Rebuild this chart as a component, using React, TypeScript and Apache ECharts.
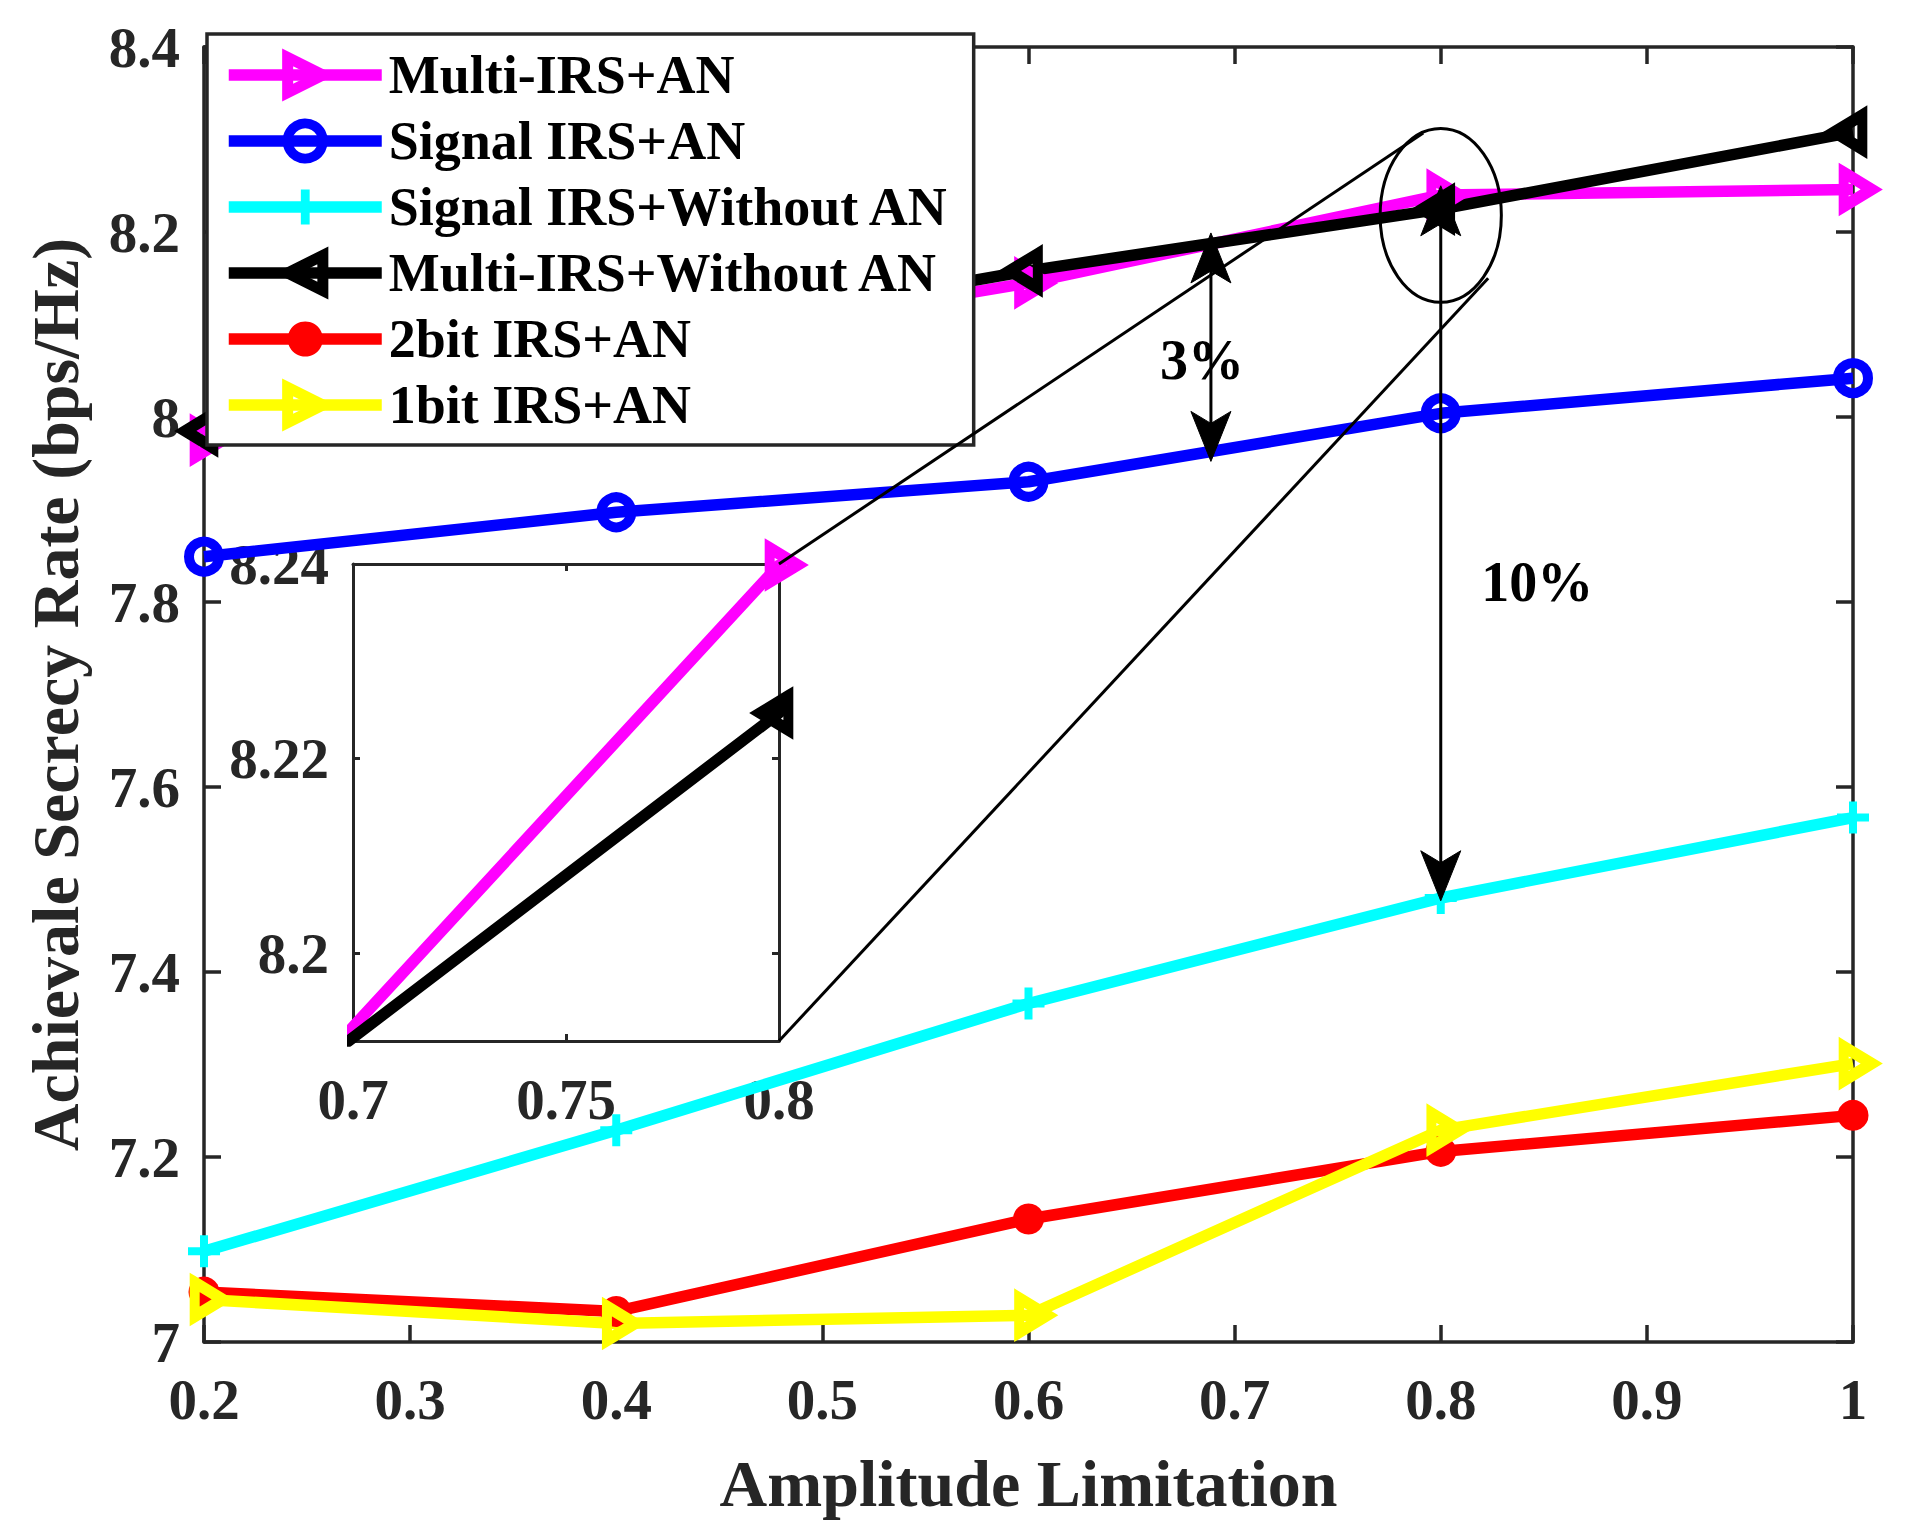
import React, { useEffect, useRef } from "react";
import * as echarts from "echarts";

// ---------------- data ----------------
const amplitude = [0.2, 0.4, 0.6, 0.8, 1.0];
const multiIrsAn = [7.975, 8.07, 8.145, 8.2399, 8.246];
const signalIrsAn = [7.849, 7.897, 7.93, 8.004, 8.042];
const signalIrsNoAn = [7.098, 7.229, 7.366, 7.48, 7.567];
const multiIrsNoAn = [7.985, 8.08, 8.158, 8.2247, 8.308];
const bit2IrsAn = [7.054, 7.033, 7.133, 7.206, 7.245];
const bit1IrsAn = [7.046, 7.02, 7.029, 7.229, 7.301];

const seriesNames = [
  "Multi-IRS+AN",
  "Signal IRS+AN",
  "Signal IRS+Without AN",
  "Multi-IRS+Without AN",
  "2bit IRS+AN",
  "1bit IRS+AN",
];

// axes
const xRange = [0.2, 1.0];
const xStep = 0.1;
const yRange = [7, 8.4];
const yStep = 0.2;
const insetXRange = [0.7, 0.8];
const insetXStep = 0.05;
const insetYRange = [8.191, 8.24];
const insetYTicks = [8.2, 8.22, 8.24];

// annotations (data coordinates of the main axes)
const arrow3 = [0.6885, 8.199, 7.952]; // x, top, bottom
const arrow10 = [0.8, 8.25, 7.477];
const label3 = [0.6842, 8.0616];
const label10 = [0.8468, 7.8216];
const ellipseCenter = [0.8, 8.218];
const ellipseHalf = [0.0294, 0.094];
const connectorEnds = [
  [0.7915, 8.307],
  [0.823, 8.15],
];

const FONT = '"Liberation Serif", "Times New Roman", serif';
const AX = "#262626";

const triRight = "path://M0,0 L10,5 L0,10 Z";
const triLeft = "path://M10,0 L0,5 L10,10 Z";
const plus =
  "path://M3.75,0 H6.25 V3.75 H10 V6.25 H6.25 V10 H3.75 V6.25 H0 V3.75 H3.75 Z";

type Spec = {
  name: string;
  values: number[];
  color: string;
  symbol: string;
  size: number | number[];
  hollow: boolean;
  border: number;
  offset?: (string | number)[];
};

const TRI = [28, 34];
const specs: Spec[] = [
  { name: seriesNames[0], values: multiIrsAn, color: "#ff00ff", symbol: triRight, size: TRI, hollow: true, border: 11, offset: ["16.7%", 0] },
  { name: seriesNames[1], values: signalIrsAn, color: "#0000ff", symbol: "circle", size: 30, hollow: true, border: 10 },
  { name: seriesNames[2], values: signalIrsNoAn, color: "#00ffff", symbol: plus, size: 32, hollow: false, border: 0 },
  { name: seriesNames[3], values: multiIrsNoAn, color: "#000000", symbol: triLeft, size: TRI, hollow: true, border: 11, offset: ["-16.7%", 0] },
  { name: seriesNames[4], values: bit2IrsAn, color: "#ff0000", symbol: "circle", size: 31, hollow: false, border: 0 },
  { name: seriesNames[5], values: bit1IrsAn, color: "#ffff00", symbol: triRight, size: TRI, hollow: true, border: 11, offset: ["16.7%", 0] },
];

function makeSeries(s: Spec, axisIndex: number) {
  return {
    type: "line",
    name: s.name,
    xAxisIndex: axisIndex,
    yAxisIndex: axisIndex,
    data: amplitude.map((x, i) => [x, s.values[i]]),
    symbol: s.symbol,
    symbolSize: s.size,
    symbolKeepAspect: false,
    symbolOffset: s.offset || [0, 0],
    showSymbol: true,
    clip: true,
    lineStyle: { color: s.color, width: 11.5 },
    itemStyle: s.hollow
      ? { color: "transparent", borderColor: s.color, borderWidth: s.border }
      : { color: s.color, borderWidth: 0 },
    emphasis: { disabled: true },
    z: 2,
  };
}

const tickLabel = {
  fontFamily: FONT,
  fontSize: 57,
  fontWeight: "bold",
  color: AX,
};

function App() {
  const ref = useRef<HTMLDivElement>(null);

  useEffect(() => {
    document.body.style.margin = "0";
    if (!ref.current) return;
    const chart = echarts.init(ref.current, undefined, { renderer: "svg" });

    const axisLine = { show: true, onZero: false, lineStyle: { color: AX, width: 3.5 } };
    const mainTick = { show: true, inside: true, length: 17, lineStyle: { color: AX, width: 3.5 } };
    const insetTick = { show: true, inside: true, length: 7, lineStyle: { color: AX, width: 3 } };
    const insetLine = { show: true, onZero: false, lineStyle: { color: AX, width: 3 } };

    const option: any = {
      animation: false,
      backgroundColor: "#fff",
      legend: {
        data: specs.map((s) => ({
          name: s.name,
          itemStyle: s.hollow
            ? { color: "transparent", borderColor: s.color, borderWidth: s.border }
            : { color: s.color, borderWidth: 0 },
        })),
        orient: "vertical",
        left: 207,
        top: 34,
        padding: [13, 24, 12, 16],
        itemWidth: 153,
        itemHeight: 44,
        itemGap: 10,
        selectedMode: false,
        backgroundColor: "#fff",
        borderColor: AX,
        borderWidth: 3.5,
        borderRadius: 0,
        lineStyle: { width: 11.5 },
        textStyle: {
          fontFamily: FONT,
          fontSize: 54,
          fontWeight: "bold",
          color: "#000",
          lineHeight: 56,
          padding: [0, 0, 0, 2],
        },
        z: 10,
      },
      grid: [
        { left: 204, top: 47, width: 1649, height: 1295, containLabel: false },
        { left: 353, top: 564, width: 426, height: 477, containLabel: false },
      ],
      xAxis: [
        {
          type: "value",
          gridIndex: 0,
          min: xRange[0],
          max: xRange[1],
          interval: xStep,
          axisLine,
          axisTick: mainTick,
          splitLine: { show: false },
          axisLabel: { ...tickLabel, margin: 29 },
          name: "Amplitude Limitation",
          nameLocation: "middle",
          nameGap: 108,
          nameTextStyle: { fontFamily: FONT, fontSize: 66, fontWeight: "bold", color: AX },
        },
        {
          type: "value",
          gridIndex: 1,
          min: insetXRange[0],
          max: insetXRange[1],
          interval: insetXStep,
          axisLine: insetLine,
          axisTick: insetTick,
          splitLine: { show: false },
          axisLabel: { ...tickLabel, margin: 30 },
        },
        {
          type: "value",
          gridIndex: 0,
          position: "top",
          min: xRange[0],
          max: xRange[1],
          interval: xStep,
          axisLine,
          axisTick: mainTick,
          splitLine: { show: false },
          axisLabel: { show: false },
        },
        {
          type: "value",
          gridIndex: 1,
          position: "top",
          min: insetXRange[0],
          max: insetXRange[1],
          interval: insetXStep,
          axisLine: insetLine,
          axisTick: insetTick,
          splitLine: { show: false },
          axisLabel: { show: false },
        },
      ],
      yAxis: [
        {
          type: "value",
          gridIndex: 0,
          min: yRange[0],
          max: yRange[1],
          interval: yStep,
          axisLine,
          axisTick: mainTick,
          splitLine: { show: false },
          axisLabel: { ...tickLabel, margin: 24 },
          name: "Achievale Secrecy Rate (bps/Hz)",
          nameLocation: "middle",
          nameRotate: 90,
          nameGap: 116,
          nameTextStyle: { fontFamily: FONT, fontSize: 66, fontWeight: "bold", color: AX },
        },
        {
          type: "value",
          gridIndex: 1,
          min: insetYRange[0],
          max: insetYRange[1],
          axisLine: insetLine,
          axisTick: { ...insetTick, customValues: insetYTicks },
          splitLine: { show: false },
          axisLabel: { ...tickLabel, margin: 24, customValues: insetYTicks },
        },
        {
          type: "value",
          gridIndex: 0,
          position: "right",
          min: yRange[0],
          max: yRange[1],
          interval: yStep,
          axisLine,
          axisTick: mainTick,
          splitLine: { show: false },
          axisLabel: { show: false },
        },
        {
          type: "value",
          gridIndex: 1,
          position: "right",
          min: insetYRange[0],
          max: insetYRange[1],
          axisLine: insetLine,
          axisTick: { ...insetTick, customValues: insetYTicks },
          splitLine: { show: false },
          axisLabel: { show: false },
        },
      ],
      series: [
        ...specs.map((s) => makeSeries(s, 0)),
        makeSeries(specs[0], 1),
        makeSeries(specs[3], 1),
      ],
    };

    chart.setOption(option);

    const P = (x: number, y: number, idx = 0): number[] =>
      chart.convertToPixel({ xAxisIndex: idx, yAxisIndex: idx } as any, [x, y]) as number[];

    const stroke = { stroke: "#000", lineWidth: 3, fill: "none" };
    const head = (tip: number[], up: boolean) => {
      const d = up ? 1 : -1;
      return {
        type: "polygon",
        z: 100,
        shape: {
          points: [
            [tip[0], tip[1]],
            [tip[0] + 20, tip[1] + d * 50],
            [tip[0], tip[1] + d * 38],
            [tip[0] - 20, tip[1] + d * 50],
          ],
        },
        style: { fill: "#000", stroke: "#000", lineWidth: 1 },
      };
    };
    const arrow = (a: number[]) => {
      const t = P(a[0], a[1]);
      const b = P(a[0], a[2]);
      return [
        { type: "line", z: 100, shape: { x1: t[0], y1: t[1] + 30, x2: b[0], y2: b[1] - 30 }, style: stroke },
        head(t, true),
        head(b, false),
      ];
    };
    const text = (pos: number[], s: string) => {
      const p = P(pos[0], pos[1]);
      return {
        type: "text",
        z: 100,
        x: p[0],
        y: p[1],
        style: {
          text: s,
          fontFamily: FONT,
          fontSize: 56,
          fontWeight: "bold",
          fill: "#000",
          align: "center",
          verticalAlign: "middle",
          textAlign: "center",
          textVerticalAlign: "middle",
        },
      };
    };
    const ec = P(ellipseCenter[0], ellipseCenter[1]);
    const ee = P(ellipseCenter[0] + ellipseHalf[0], ellipseCenter[1] - ellipseHalf[1]);
    const cTop = P(insetXRange[1], insetYRange[1], 1);
    const cBot = P(insetXRange[1], insetYRange[0], 1);
    const e1 = P(connectorEnds[0][0], connectorEnds[0][1]);
    const e2 = P(connectorEnds[1][0], connectorEnds[1][1]);

    chart.setOption({
      graphic: [
        ...arrow(arrow3),
        ...arrow(arrow10),
        text(label3, "3%"),
        text(label10, "10%"),
        {
          type: "ellipse",
          z: 100,
          shape: { cx: ec[0], cy: ec[1], rx: Math.abs(ee[0] - ec[0]), ry: Math.abs(ee[1] - ec[1]) },
          style: stroke,
        },
        { type: "line", z: 100, shape: { x1: cTop[0], y1: cTop[1], x2: e1[0], y2: e1[1] }, style: stroke },
        { type: "line", z: 100, shape: { x1: cBot[0], y1: cBot[1], x2: e2[0], y2: e2[1] }, style: stroke },
      ],
    });

    return () => chart.dispose();
  }, []);

  return <div ref={ref} style={{ width: 1912, height: 1536 }} />;
}

export default App;
